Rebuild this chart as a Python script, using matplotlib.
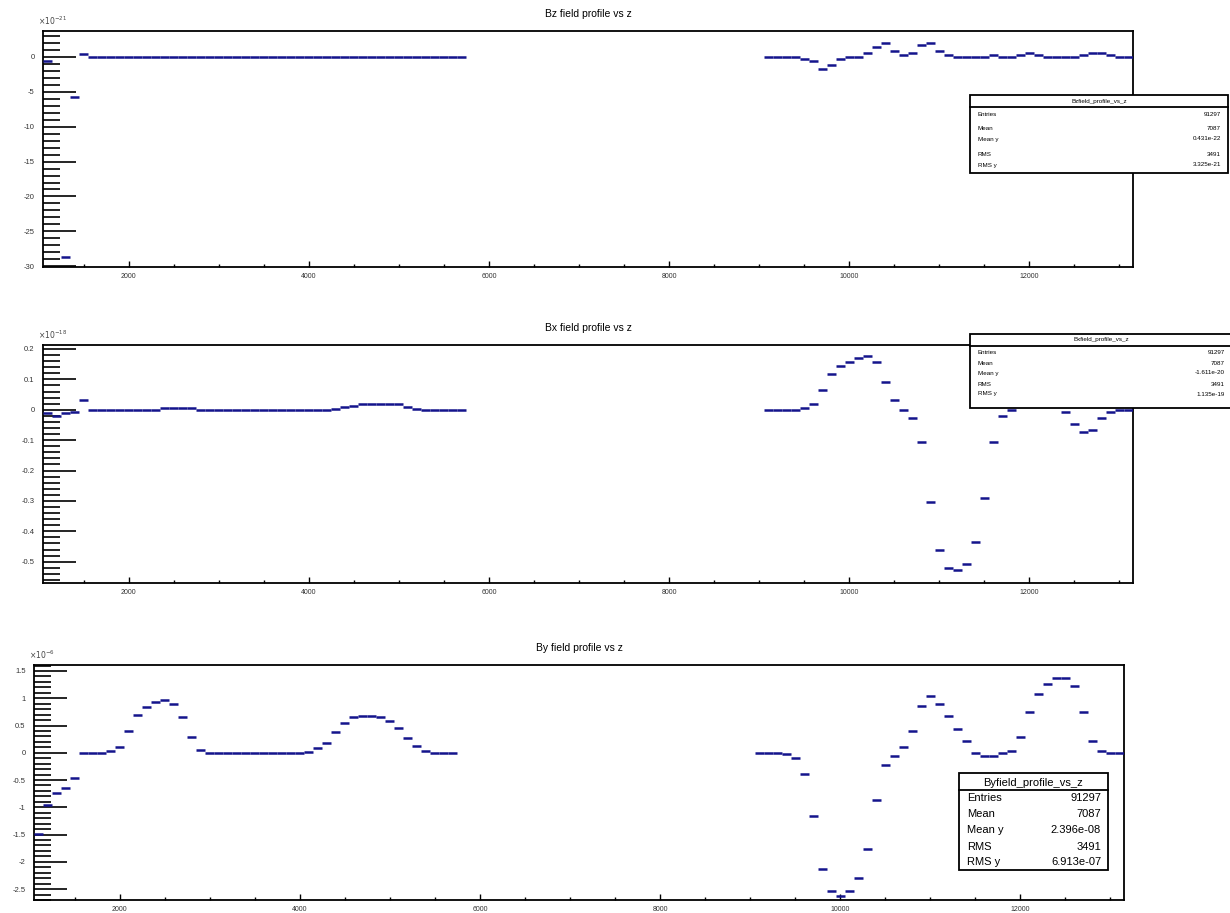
import numpy as np
import matplotlib
matplotlib.use('Agg')
import matplotlib.pyplot as plt
from matplotlib.ticker import MultipleLocator, AutoMinorLocator
from matplotlib.patches import Rectangle

plt.rcParams['font.family'] = ['Liberation Sans', 'DejaVu Sans']

# profile bins (width 100), two filled stretches of z
bin_width = 100
z_left = np.arange(1100, 5800, bin_width)     # 47 bins
z_right = np.arange(9100, 13200, bin_width)   # 41 bins
nan = np.nan

# Bz (x1e-21)
bz_left = [-0.62, nan, -28.7, -5.74, 0.34] + [0.0] * 42
bz_right = [0, 0, 0, 0, -0.33, -0.62, -1.76, -1.19, -0.33, 0, 0, 0.53, 1.43, 1.96,
            0.82, 0.24, 0.53, 1.68, 1.96, 0.82, 0.24, 0, 0, 0, 0, 0.24, 0, 0, 0.24,
            0.53, 0.24, 0, 0, 0, 0, 0.24, 0.53, 0.53, 0.24, 0, 0]

# Bx (x1e-18)
bx_left = [-0.01, -0.02, -0.01, -0.008, 0.032, 0, 0, 0, 0, 0, 0, 0, 0,
           0.006, 0.006, 0.006, 0.006, 0, 0, 0, 0, 0, 0, 0, 0, 0, 0, 0, 0, 0, 0, 0,
           0.003, 0.008, 0.013, 0.018, 0.02, 0.02, 0.02, 0.018, 0.008, 0.002,
           0, 0, 0, 0, 0]
bx_right = [0, 0, 0, 0, 0.006, 0.019, 0.065, 0.117, 0.144, 0.157, 0.17, 0.177, 0.157,
            0.091, 0.032, 0.0, -0.027, -0.107, -0.305, -0.462, -0.52, -0.527, -0.509,
            -0.436, -0.291, -0.107, -0.022, 0.0, 0.015, 0.03, 0.035, 0.03, 0.015,
            -0.008, -0.047, -0.073, -0.067, -0.027, -0.008, 0, 0]

# By (x1e-6)
by_left = [-1.49, -0.95, -0.73, -0.65, -0.46, 0, 0, 0, 0.03, 0.106, 0.405, 0.70,
           0.845, 0.93, 0.965, 0.89, 0.66, 0.285, 0.06, 0, 0, 0, 0, 0, 0, 0, 0, 0,
           0, 0, 0.02, 0.08, 0.18, 0.38, 0.55, 0.65, 0.68, 0.68, 0.65, 0.58, 0.45,
           0.28, 0.12, 0.04, 0, 0, 0]
by_right = [0, 0, 0, -0.03, -0.09, -0.38, -1.16, -2.14, -2.54, -2.62, -2.54, -2.29,
            -1.77, -0.87, -0.23, -0.05, 0.10, 0.40, 0.85, 1.04, 0.89, 0.67, 0.44, 0.22,
            0.0, -0.05, -0.05, -0.01, 0.03, 0.29, 0.74, 1.08, 1.26, 1.375, 1.375, 1.23,
            0.74, 0.22, 0.03, -0.01, 0]

titles = ['Bz field profile vs z', 'Bx field profile vs z', 'By field profile vs z']
exponents = [r'$\times10^{-21}$', r'$\times10^{-18}$', r'$\times10^{-6}$']
stat_names = ['Entries', 'Mean', 'Mean y', 'RMS', 'RMS y']
bz_stats = ['91297', '7087', '0.431e-22', '3491', '3.325e-21']
bx_stats = ['91297', '7087', '-1.611e-20', '3491', '1.135e-19']
by_stats = ['91297', '7087', '2.396e-08', '3491', '6.913e-07']

W, H = 1230, 913
fig = plt.figure(figsize=(W / 100, H / 100), dpi=100)


def px_axes(l, t, r, b):
    return fig.add_axes([l / W, 1 - b / H, (r - l) / W, (b - t) / H])


def stats_box(l, t, r, b, sep, title, vals, fs, rows_y, title_y):
    tr = fig.transFigure
    fig.patches.append(Rectangle((l / W, 1 - b / H), (r - l) / W, (b - t) / H,
                                 transform=tr, fc='white', ec='black', lw=1.3, zorder=5))
    fig.text((l + r) / 2 / W, 1 - title_y / H, title, ha='center', va='center',
             fontsize=fs, zorder=7)
    fig.lines.append(plt.Line2D([l / W, r / W], [1 - sep / H, 1 - sep / H],
                                transform=tr, color='black', lw=1.3, zorder=8))
    for name, v, y in zip(stat_names, vals, rows_y):
        fig.text((l + 8) / W, 1 - y / H, name, ha='left', va='center', fontsize=fs, zorder=7)
        fig.text((r - 7) / W, 1 - y / H, v, ha='right', va='center', fontsize=fs, zorder=7)


def draw_panel(ax, lv, rv, ylim, major, title, expo):
    for z, v in ((z_left, lv), (z_right, rv)):
        v = np.array(v, dtype=float)
        ok = ~np.isnan(v)
        ax.hlines(v[ok], z[ok] - bin_width / 2, z[ok] + bin_width / 2,
                  colors='#14148c', lw=1.8, zorder=3)
    ax.set_xlim(1050, 13150)
    ax.set_ylim(*ylim)
    ax.xaxis.set_major_locator(MultipleLocator(2000))
    ax.xaxis.set_minor_locator(MultipleLocator(500))
    ax.yaxis.set_major_locator(MultipleLocator(major))
    ax.yaxis.set_minor_locator(AutoMinorLocator(5))
    ax.yaxis.set_major_formatter(plt.FuncFormatter(lambda v, p: '%g' % round(v, 6)))
    ax.tick_params(axis='y', which='major', direction='in', length=24, width=1.2,
                   labelsize=5.5, pad=6, labelcolor='#333333', right=False)
    ax.tick_params(axis='y', which='minor', direction='in', length=12, width=1.2, right=False)
    ax.tick_params(axis='x', which='major', direction='in', length=4.5, width=1.0,
                   labelsize=5, pad=4, labelcolor='#333333', top=False)
    ax.tick_params(axis='x', which='minor', direction='in', length=2.2, width=1.0, top=False)
    for s in ax.spines.values():
        s.set_linewidth(1.3)
    ax.set_title(title, fontsize=7.5, pad=10)
    ax.text(-0.005, 1.015, expo, transform=ax.transAxes, fontsize=5.5,
            color='#444444', ha='left', va='bottom')


ax1 = px_axes(43, 31, 1133, 267)
draw_panel(ax1, bz_left, bz_right, (-30.1, 3.7), 5, titles[0], exponents[0])
ax2 = px_axes(43, 345, 1133, 583)
draw_panel(ax2, bx_left, bx_right, (-0.57, 0.213), 0.1, titles[1], exponents[1])
ax3 = px_axes(34, 665, 1124, 900)
draw_panel(ax3, by_left, by_right, (-2.7, 1.61), 0.5, titles[2], exponents[2])

stats_box(970, 95, 1228, 173, 107, 'Bzfield_profile_vs_z', bz_stats, 4.5,
          [114, 128, 139, 155, 165], 101)
stats_box(970, 334, 1232, 408, 346, 'Bxfield_profile_vs_z', bx_stats, 4.5,
          [353, 363, 373, 384, 394], 340)
stats_box(959, 773, 1108, 870, 790, 'Byfield_profile_vs_z', by_stats, 8,
          [798, 814, 830, 847, 862], 783)

fig.savefig('out.png', dpi=100)
